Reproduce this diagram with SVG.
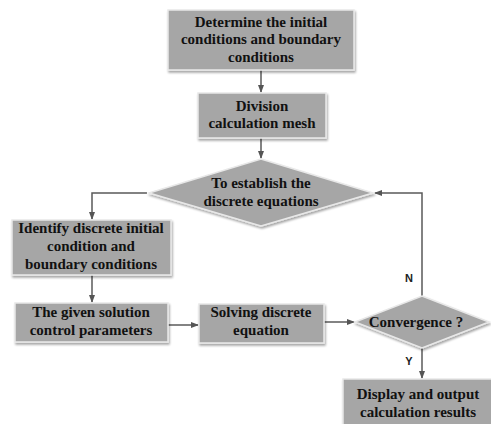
<svg xmlns="http://www.w3.org/2000/svg" width="491" height="424" viewBox="0 0 491 424">
<defs>
<marker id="ah" markerWidth="8" markerHeight="8" refX="7" refY="4" orient="auto" markerUnits="userSpaceOnUse">
<path d="M0,1 L8,4 L0,7 z" fill="#555"/>
</marker>
<filter id="sh" x="-10%" y="-10%" width="130%" height="140%">
<feDropShadow dx="1" dy="2" stdDeviation="1.2" flood-color="#000" flood-opacity="0.35"/>
</filter>
</defs>
<style>
.n{fill:#a6a6a6;stroke:#e8e8e8;stroke-width:1.5;filter:url(#sh)}
.t{font-family:"Liberation Serif",serif;font-weight:bold;font-size:15px;fill:#111;text-anchor:middle}
.l{font-family:"Liberation Sans",sans-serif;font-weight:bold;font-size:11px;fill:#222;text-anchor:middle}
.c{fill:none;stroke:#5a5a5a;stroke-width:1.5}
</style>
<rect width="491" height="424" fill="#fff"/>
<g id="connectors">
<line class="c" x1="261" y1="70" x2="261" y2="92" marker-end="url(#ah)"/>
<line class="c" x1="261" y1="138" x2="261" y2="158" marker-end="url(#ah)"/>
<polyline class="c" points="147,193 92,193 92,219" marker-end="url(#ah)"/>
<line class="c" x1="92" y1="275" x2="92" y2="302" marker-end="url(#ah)"/>
<line class="c" x1="168" y1="325" x2="198" y2="325" marker-end="url(#ah)"/>
<line class="c" x1="324" y1="322" x2="354" y2="322" marker-end="url(#ah)"/>
<polyline class="c" points="422,296 422,193 375,193" marker-end="url(#ah)"/>
<line class="c" x1="422" y1="348" x2="422" y2="378" marker-end="url(#ah)"/>
<text class="l" x="409" y="282">N</text>
<text class="l" x="409" y="365">Y</text>
</g>
<g id="n1">
<rect class="n" x="168" y="10" width="186" height="60"/>
<text class="t" x="261" y="27">Determine the initial</text>
<text class="t" x="261" y="44">conditions and boundary</text>
<text class="t" x="261" y="62">conditions</text>
</g>
<g id="n2">
<rect class="n" x="198" y="93" width="128" height="45"/>
<text class="t" x="262" y="111">Division</text>
<text class="t" x="262" y="128">calculation mesh</text>
</g>
<g id="n3">
<polygon class="n" points="261,159 373,193 261,226 149,193"/>
<text class="t" x="261" y="188">To establish the</text>
<text class="t" x="261" y="206">discrete equations</text>
</g>
<g id="n4">
<rect class="n" x="12" y="220" width="159" height="55"/>
<text class="t" x="91" y="233">Identify discrete initial</text>
<text class="t" x="91" y="251">condition and</text>
<text class="t" x="91" y="269">boundary conditions</text>
</g>
<g id="n5">
<rect class="n" x="15" y="303" width="153" height="39"/>
<text class="t" x="91" y="317">The given solution</text>
<text class="t" x="91" y="335">control parameters</text>
</g>
<g id="n6">
<rect class="n" x="199" y="304" width="125" height="39"/>
<text class="t" x="261" y="317">Solving discrete</text>
<text class="t" x="261" y="335">equation</text>
</g>
<g id="n7">
<polygon class="n" points="422,296 489,322 422,348 355,322"/>
<text class="t" x="416" y="327">Convergence ?</text>
</g>
<g id="n8">
<rect class="n" x="343" y="379" width="150" height="50"/>
<text class="t" x="418" y="399">Display and output</text>
<text class="t" x="418" y="417">calculation results</text>
</g>
</svg>
